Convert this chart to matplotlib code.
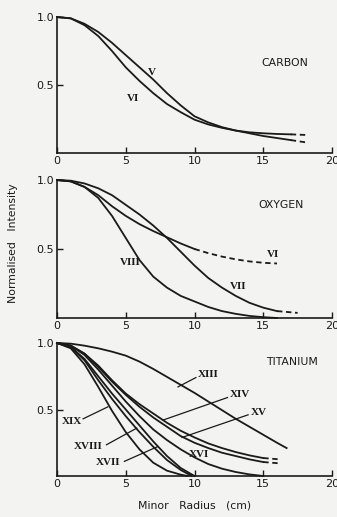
import matplotlib
matplotlib.use("Agg")
import matplotlib.pyplot as plt

# ---------- data ----------
# carbon
c5_x = list(range(0, 18))
c5_y = [1.0, 0.99, 0.95, 0.89, 0.81, 0.72, 0.63, 0.54, 0.44, 0.35,
        0.27, 0.225, 0.19, 0.165, 0.145, 0.125, 0.11, 0.095]
c5_dash_x = [17, 18.3]
c5_dash_y = [0.095, 0.075]

c6_x = list(range(0, 18))
c6_y = [1.0, 0.99, 0.94, 0.86, 0.75, 0.63, 0.53, 0.44, 0.36, 0.30,
        0.245, 0.21, 0.185, 0.165, 0.152, 0.145, 0.14, 0.137]
c6_dash_x = [17, 18.3]
c6_dash_y = [0.137, 0.132]

# oxygen
o6_x = list(range(0, 11))
o6_y = [1.0, 0.99, 0.95, 0.89, 0.81, 0.74, 0.68, 0.63, 0.585, 0.54, 0.50]
o6_dash_x = [10, 11, 12, 13, 14, 15, 16]
o6_dash_y = [0.50, 0.47, 0.445, 0.425, 0.41, 0.40, 0.395]

o7_x = list(range(0, 17))
o7_y = [1.0, 0.995, 0.975, 0.94, 0.89, 0.82, 0.75, 0.67, 0.58, 0.48,
        0.38, 0.29, 0.22, 0.16, 0.11, 0.075, 0.05]
o7_dash_x = [16, 17.5]
o7_dash_y = [0.05, 0.037]

o8_x = list(range(0, 17))
o8_y = [1.0, 0.99, 0.95, 0.87, 0.74, 0.58, 0.42, 0.30, 0.22, 0.16,
        0.12, 0.08, 0.05, 0.03, 0.015, 0.006, 0.0]

# titanium
t13_x = list(range(0, 17)) + [16.7]
t13_y = [1.0, 0.995, 0.98, 0.96, 0.935, 0.905, 0.86, 0.805, 0.745, 0.685,
         0.625, 0.56, 0.495, 0.43, 0.37, 0.31, 0.25, 0.21]

t14_x = list(range(0, 16))
t14_y = [1.0, 0.98, 0.92, 0.83, 0.72, 0.62, 0.54, 0.47, 0.40, 0.34,
         0.29, 0.245, 0.21, 0.18, 0.155, 0.135]
t14_dash_x = [15, 16.2]
t14_dash_y = [0.135, 0.125]

t15_x = list(range(0, 16))
t15_y = [1.0, 0.98, 0.92, 0.82, 0.71, 0.61, 0.52, 0.44, 0.37, 0.30,
         0.25, 0.21, 0.175, 0.15, 0.125, 0.105]
t15_dash_x = [15, 16.2]
t15_dash_y = [0.105, 0.095]

t16_x = list(range(0, 16))
t16_y = [1.0, 0.98, 0.91, 0.80, 0.68, 0.56, 0.45, 0.35, 0.27, 0.20,
         0.14, 0.09, 0.055, 0.03, 0.012, 0.0]

t17_x = list(range(0, 11))
t17_y = [1.0, 0.97, 0.88, 0.75, 0.62, 0.50, 0.38, 0.26, 0.15, 0.06, 0.0]

t18_x = [0, 1, 2, 3, 4, 5, 6, 7, 8, 9, 9.8]
t18_y = [1.0, 0.97, 0.87, 0.72, 0.58, 0.45, 0.33, 0.22, 0.12, 0.045, 0.0]

t19_x = [0, 1, 2, 3, 4, 5, 6, 7, 8, 9, 9.5]
t19_y = [1.0, 0.96, 0.84, 0.67, 0.49, 0.33, 0.20, 0.10, 0.04, 0.01, 0.0]

x_ticks = [0, 5, 10, 15, 20]
x_ticklabels = ["0", "5", "10", "15", "20"]
y_ticks = [0.5, 1.0]
y_ticklabels = ["0.5", "1.0"]

INK = "#1a1a1a"
BG = "#f3f3f1"
LW = 1.3

fig = plt.figure(figsize=(3.37, 5.17), dpi=100, facecolor=BG)

# axes boxes (left, bottom, width, height) in figure fractions
boxes = [
    (57 / 337, (517 - 153) / 517, 275 / 337, 136 / 517),
    (57 / 337, (517 - 318) / 517, 275 / 337, 138 / 517),
    (57 / 337, (517 - 476) / 517, 275 / 337, 133 / 517),
]


def setup(ax, title, title_xy):
    ax.set_facecolor(BG)
    ax.set_xlim(0, 20)
    ax.set_ylim(0, 1.0)
    for s in ("top", "right"):
        ax.spines[s].set_visible(False)
    for s in ("left", "bottom"):
        ax.spines[s].set_color(INK)
        ax.spines[s].set_linewidth(1.2)
    ax.set_xticks(x_ticks)
    ax.set_xticklabels(x_ticklabels)
    ax.set_yticks(y_ticks)
    ax.set_yticklabels(y_ticklabels)
    ax.tick_params(axis="both", direction="in", length=4, width=1.0,
                   color=INK, labelsize=8, labelcolor=INK, pad=2)
    ax.text(title_xy[0], title_xy[1], title, fontsize=7.8, color=INK,
            ha="center", va="center")


def line(ax, xs, ys, dashed=False):
    ax.plot(xs, ys, color=INK, lw=LW, clip_on=False,
            linestyle=(0, (3, 2)) if dashed else "-")


def roman(ax, x, y, s):
    ax.text(x, y, s, fontsize=8, fontweight="bold", family="Liberation Serif",
            color=INK, ha="center", va="center")


def leader(ax, x0, y0, x1, y1):
    ax.plot([x0, x1], [y0, y1], color=INK, lw=0.9)


# ---------- carbon ----------
ax1 = fig.add_axes(boxes[0])
setup(ax1, "CARBON", (16.6, 0.66))
line(ax1, c5_x, c5_y)
line(ax1, c5_dash_x, c5_dash_y, dashed=True)
line(ax1, c6_x, c6_y)
line(ax1, c6_dash_x, c6_dash_y, dashed=True)
roman(ax1, 6.9, 0.59, "V")
roman(ax1, 5.5, 0.40, "VI")

# ---------- oxygen ----------
ax2 = fig.add_axes(boxes[1])
setup(ax2, "OXYGEN", (16.3, 0.82))
line(ax2, o6_x, o6_y)
line(ax2, o6_dash_x, o6_dash_y, dashed=True)
line(ax2, o7_x, o7_y)
line(ax2, o7_dash_x, o7_dash_y, dashed=True)
line(ax2, o8_x, o8_y)
roman(ax2, 5.3, 0.40, "VIII")
roman(ax2, 13.2, 0.225, "VII")
roman(ax2, 15.7, 0.46, "VI")

# ---------- titanium ----------
ax3 = fig.add_axes(boxes[2])
setup(ax3, "TITANIUM", (17.1, 0.86))
line(ax3, t13_x, t13_y)
line(ax3, t14_x, t14_y)
line(ax3, t14_dash_x, t14_dash_y, dashed=True)
line(ax3, t15_x, t15_y)
line(ax3, t15_dash_x, t15_dash_y, dashed=True)
line(ax3, t16_x, t16_y)
line(ax3, t17_x, t17_y)
line(ax3, t18_x, t18_y)
line(ax3, t19_x, t19_y)

roman(ax3, 11.0, 0.76, "XIII")
leader(ax3, 10.1, 0.74, 8.8, 0.67)
roman(ax3, 13.3, 0.61, "XIV")
leader(ax3, 12.4, 0.59, 7.7, 0.42)
roman(ax3, 14.7, 0.48, "XV")
leader(ax3, 13.9, 0.46, 9.1, 0.29)
roman(ax3, 10.3, 0.16, "XVI")
roman(ax3, 3.7, 0.10, "XVII")
leader(ax3, 4.9, 0.11, 7.3, 0.22)
roman(ax3, 2.3, 0.225, "XVIII")
leader(ax3, 3.6, 0.235, 5.8, 0.36)
roman(ax3, 1.1, 0.41, "XIX")
leader(ax3, 1.9, 0.43, 3.7, 0.52)

fig.text(13 / 337, 1 - 243 / 517, "Normalised   Intensity", rotation=90,
         fontsize=7.8, color=INK, ha="center", va="center")
fig.text(195 / 337, 1 - 505 / 517, "Minor   Radius   (cm)", fontsize=7.8,
         color=INK, ha="center", va="center")

fig.savefig("out.png", dpi=100, facecolor=BG)
